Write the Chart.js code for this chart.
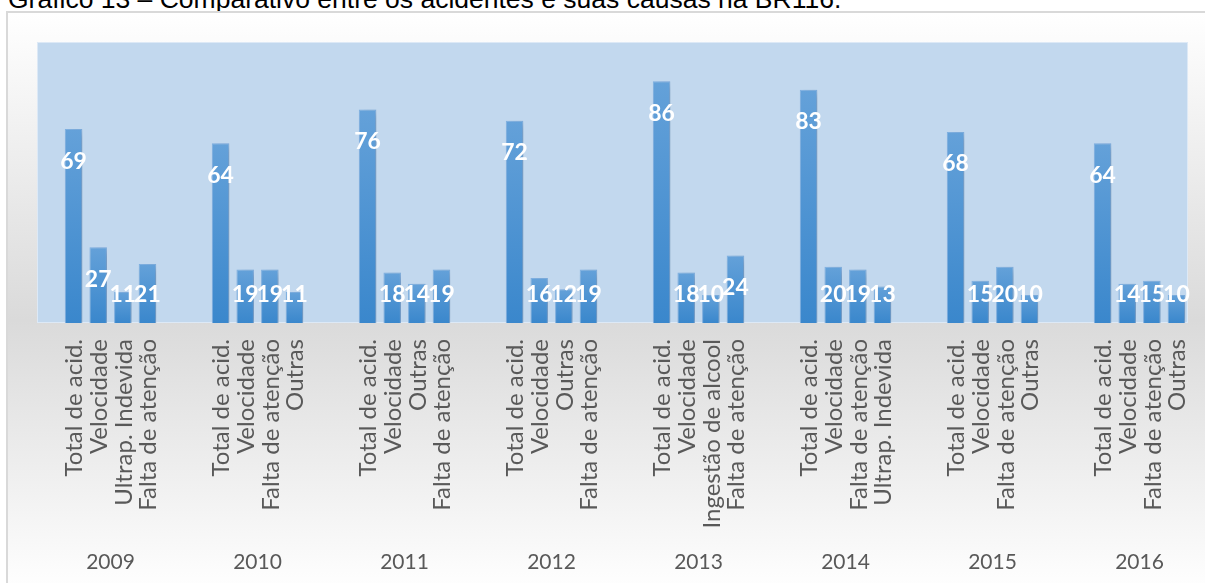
<!DOCTYPE html>
<html lang="pt">
<head>
<meta charset="UTF-8">
<title>Gráfico 13 - Acidentes na BR116</title>
<script src="https://cdn.jsdelivr.net/npm/chart.js"></script>
<style>
  body { margin: 0; width: 1205px; height: 583px; overflow: hidden; background: #fff; position: relative; }
  .legenda { position: absolute; left: 8px; top: -14px; font: 26.5px/26px "Liberation Sans", Arial, sans-serif; color: #000; white-space: nowrap; }
  .moldura { position: absolute; left: 6px; top: 11px; width: 1240px; height: 580px; border: 2px solid #d9d9d9;
             background: linear-gradient(to bottom, #ffffff 0%, #dadada 53%, #ffffff 100%); }
  #grafico { position: absolute; left: 0; top: 0; }
</style>
</head>
<body>
<div class="legenda">Gráfico 13 – Comparativo entre os acidentes e suas causas na BR116.</div>
<div class="moldura"></div>
<canvas id="grafico" width="1230" height="583"></canvas>

<script>
    const anos = ['2009', '2010', '2011', '2012', '2013', '2014', '2015', '2016'];

    // nome de cada barra dentro do ano (na ordem em que aparecem)
    const causas = [
        ['Total de acid.', 'Velocidade', 'Ultrap. Indevida', 'Falta de atenção'],
        ['Total de acid.', 'Velocidade', 'Falta de atenção', 'Outras'],
        ['Total de acid.', 'Velocidade', 'Outras', 'Falta de atenção'],
        ['Total de acid.', 'Velocidade', 'Outras', 'Falta de atenção'],
        ['Total de acid.', 'Velocidade', 'Ingestão de alcool', 'Falta de atenção'],
        ['Total de acid.', 'Velocidade', 'Falta de atenção', 'Ultrap. Indevida'],
        ['Total de acid.', 'Velocidade', 'Falta de atenção', 'Outras'],
        ['Total de acid.', 'Velocidade', 'Falta de atenção', 'Outras']
    ];

    const total_acidentes = [69, 64, 76, 72, 86, 83, 68, 64];
    const velocidade = [27, 19, 18, 16, 18, 20, 15, 14];
    const terceira_causa = [11, 19, 14, 12, 10, 19, 20, 15];
    const quarta_causa = [21, 11, 19, 19, 24, 13, 10, 10];

    // degrade de cada barra, do topo ate a base
    function cor_barra(ctx) {
        const y = ctx.chart.scales.y;
        if (ctx.type !== 'data' || !y) return '#4a90d2';
        const topo = y.getPixelForValue(ctx.raw);
        const base = y.getPixelForValue(0);
        if (!Number.isFinite(topo) || !Number.isFinite(base)) return '#4a90d2';
        const g = ctx.chart.ctx.createLinearGradient(0, topo, 0, base);
        g.addColorStop(0, '#64a1d9');
        g.addColorStop(1, '#3a87cc');
        return g;
    }

    const fundo_area = {
        id: 'fundo_area',
        beforeDraw(chart) {
            const { ctx, chartArea: a } = chart;
            ctx.save();
            ctx.fillStyle = '#c2d8ee';
            ctx.fillRect(a.left, a.top, a.right - 25 - a.left, a.bottom - a.top);
            ctx.strokeStyle = 'rgba(255,255,255,0.45)';
            ctx.lineWidth = 1;
            ctx.strokeRect(a.left + 0.5, a.top + 0.5, a.right - 26 - a.left, a.bottom - a.top - 1);
            ctx.restore();
        }
    };

    // sombra suave a direita das barras
    const sombra_barras = {
        id: 'sombra_barras',
        beforeDatasetsDraw(chart) {
            const ctx = chart.ctx;
            ctx.save();
            ctx.shadowColor = 'rgba(40,60,90,0.28)';
            ctx.shadowBlur = 9;
            ctx.shadowOffsetX = 5;
            ctx.shadowOffsetY = 3;
        },
        afterDatasetsDraw(chart) {
            chart.ctx.restore();
        }
    };

    // valores em branco dentro das barras
    const rotulos_valor = {
        id: 'rotulos_valor',
        afterDatasetsDraw(chart) {
            const ctx = chart.ctx;
            ctx.save();
            ctx.fillStyle = '#ffffff';
            ctx.font = 'bold 23px Lato, "Open Sans", sans-serif';
            ctx.textAlign = 'center';
            ctx.textBaseline = 'middle';
            chart.data.datasets.forEach((ds, d) => {
                chart.getDatasetMeta(d).data.forEach((barra, i) => {
                    const y = Math.min(barra.y + 32, barra.base - 28);
                    ctx.fillText(ds.data[i], barra.x, y);
                });
            });
            ctx.restore();
        }
    };

    // nomes das causas, na vertical, embaixo de cada barra
    const rotulos_causa = {
        id: 'rotulos_causa',
        afterDraw(chart) {
            const ctx = chart.ctx;
            const base = chart.chartArea.bottom + 16;
            ctx.save();
            ctx.fillStyle = '#595959';
            ctx.font = '24px Lato, "Open Sans", sans-serif';
            ctx.textAlign = 'right';
            ctx.textBaseline = 'middle';
            chart.data.datasets.forEach((ds, d) => {
                chart.getDatasetMeta(d).data.forEach((barra, i) => {
                    ctx.save();
                    ctx.translate(barra.x + 1, base);
                    ctx.rotate(-Math.PI / 2);
                    ctx.fillText(causas[i][d], 0, 0);
                    ctx.restore();
                });
            });
            ctx.restore();
        }
    };

    const series = [total_acidentes, velocidade, terceira_causa, quarta_causa];

    const dados = {
        labels: anos,
        datasets: series.map((valores, n) => ({
            label: 'barra ' + (n + 1),
            data: valores,
            backgroundColor: cor_barra,
            borderColor: 'rgba(120,172,224,0.9)',
            borderWidth: 1,
            categoryPercentage: 0.67,
            barPercentage: 0.71
        }))
    };

    var grafico = new Chart(document.getElementById('grafico'), {
        type: 'bar',
        data: dados,
        options: {
            responsive: false,
            animation: false,
            layout: { padding: { left: 37, top: 42, right: 17, bottom: 0 } },
            plugins: { legend: { display: false }, tooltip: { enabled: false } },
            scales: {
                x: {
                    // o tickLength (sem desenhar a grade) empurra os anos para baixo
                    grid: { display: false, drawTicks: true, tickLength: 227 },
                    border: { display: false },
                    ticks: { color: '#595959', font: { family: 'Lato', size: 21 }, padding: 0, maxRotation: 0 },
                    afterFit(s) { s.height = 260; }
                },
                y: { display: false, min: 0, max: 100 }
            }
        },
        plugins: [fundo_area, sombra_barras, rotulos_valor, rotulos_causa]
    });
</script>
</body>
</html>
